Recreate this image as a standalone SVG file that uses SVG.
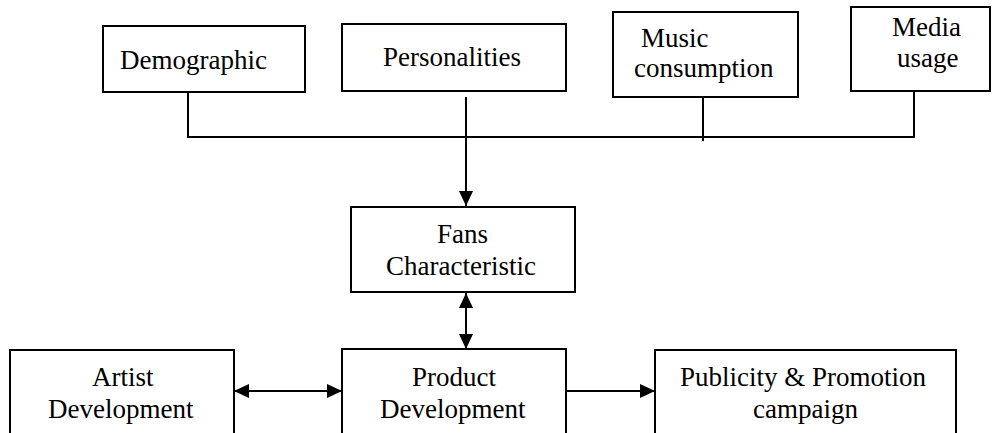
<svg xmlns="http://www.w3.org/2000/svg" width="992" height="433" viewBox="0 0 992 433">
<defs>
<marker id="ah" markerUnits="userSpaceOnUse" markerWidth="15" markerHeight="14" refX="15" refY="7" orient="auto-start-reverse" viewBox="0 0 15 14">
<path d="M0,0 L15,7 L0,14 z" fill="#000"/>
</marker>
</defs>
<g id="connectors" fill="none" stroke="#000" stroke-width="2">
<polyline points="188,92 188,137 914,137 914,91"/>
<line x1="703" y1="97" x2="703" y2="141"/>
<line x1="466" y1="97" x2="466" y2="206" marker-end="url(#ah)"/>
<line x1="466" y1="293" x2="466" y2="349" marker-start="url(#ah)" marker-end="url(#ah)"/>
<line x1="234" y1="391" x2="342" y2="391" marker-start="url(#ah)" marker-end="url(#ah)"/>
<line x1="566" y1="391" x2="655" y2="391" marker-end="url(#ah)"/>
</g>
<g id="demographic"><rect x="103" y="26" width="202" height="66" fill="#fff" stroke="#000" stroke-width="2"/><text x="120" y="69" font-family="Liberation Serif" font-size="27">Demographic</text></g>
<g id="personalities"><rect x="342" y="24" width="224" height="67" fill="#fff" stroke="#000" stroke-width="2"/><text x="383" y="66" font-family="Liberation Serif" font-size="27">Personalities</text></g>
<g id="music"><rect x="613" y="12" width="185" height="85" fill="#fff" stroke="#000" stroke-width="2"/><text x="641" y="47" font-family="Liberation Serif" font-size="27">Music</text><text x="634" y="77" font-family="Liberation Serif" font-size="27">consumption</text></g>
<g id="media"><rect x="851" y="7" width="139" height="84" fill="#fff" stroke="#000" stroke-width="2"/><text x="892" y="36" font-family="Liberation Serif" font-size="27">Media</text><text x="897" y="67" font-family="Liberation Serif" font-size="27">usage</text></g>
<g id="fans"><rect x="351" y="207" width="224" height="85" fill="#fff" stroke="#000" stroke-width="2"/><text x="437" y="243" font-family="Liberation Serif" font-size="27">Fans</text><text x="386" y="275" font-family="Liberation Serif" font-size="27">Characteristic</text></g>
<g id="product"><rect x="342" y="349" width="224" height="95" fill="#fff" stroke="#000" stroke-width="2"/><text x="412" y="386" font-family="Liberation Serif" font-size="27">Product</text><text x="380" y="418" font-family="Liberation Serif" font-size="27">Development</text></g>
<g id="artist"><rect x="10" y="350" width="224" height="95" fill="#fff" stroke="#000" stroke-width="2"/><text x="92" y="386" font-family="Liberation Serif" font-size="27">Artist</text><text x="48" y="418" font-family="Liberation Serif" font-size="27">Development</text></g>
<g id="publicity"><rect x="655" y="350" width="301" height="95" fill="#fff" stroke="#000" stroke-width="2"/><text x="680" y="386" font-family="Liberation Serif" font-size="27">Publicity &amp; Promotion</text><text x="753" y="418" font-family="Liberation Serif" font-size="27">campaign</text></g>
</svg>
